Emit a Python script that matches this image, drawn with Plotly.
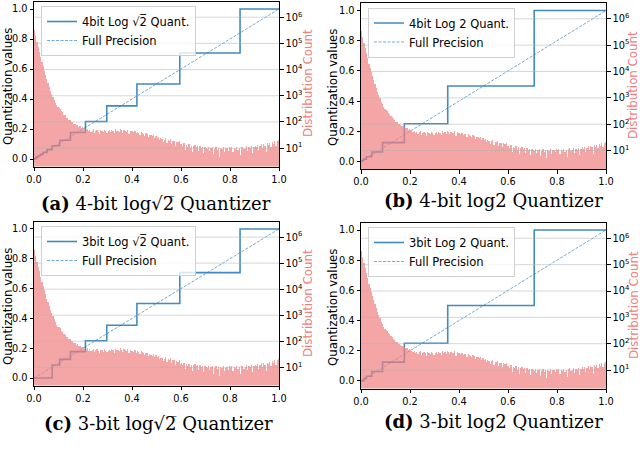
import numpy as np
import plotly.graph_objects as go

# histogram of the (normalised) values, log10 of the count per bin, 200 bins on [0, 1]
log_counts = [
    5.55, 5.30, 5.08, 4.88, 4.70, 4.50, 4.30, 4.15, 3.98, 3.82, 3.66, 3.52, 3.36, 3.22, 3.10, 2.98, 2.86, 2.76, 2.66, 2.58,
    2.55, 2.51, 2.42, 2.39, 2.30, 2.27, 2.19, 2.17, 2.10, 2.09, 2.02, 2.01, 1.96, 1.95, 1.89, 1.90, 1.84, 1.85, 1.79, 1.81,
    1.78, 1.74, 1.70, 1.76, 1.66, 1.72, 1.63, 1.69, 1.74, 1.60, 1.68, 1.71, 1.65, 1.56, 1.70, 1.67, 1.62, 1.71, 1.66, 1.59,
    1.66, 1.70, 1.63, 1.72, 1.68, 1.58, 1.74, 1.67, 1.69, 1.64, 1.75, 1.70, 1.61, 1.72, 1.68, 1.65, 1.73, 1.56, 1.69, 1.66,
    1.66, 1.62, 1.68, 1.58, 1.64, 1.61, 1.53, 1.63, 1.59, 1.56, 1.50, 1.58, 1.55, 1.44, 1.53, 1.51, 1.47, 1.52, 1.41, 1.48,
    1.40, 1.44, 1.32, 1.39, 1.37, 1.26, 1.35, 1.40, 1.22, 1.33, 1.31, 1.36, 1.19, 1.30, 1.28, 1.12, 1.27, 1.24, 1.29, 1.16,
    1.18, 1.10, 1.20, 0.95, 1.14, 1.08, 1.16, 1.02, 1.12, 0.88, 1.10, 1.14, 1.05, 1.09, 0.92, 1.11, 1.04, 1.07, 0.85, 1.06,
    1.04, 0.98, 1.07, 0.90, 1.03, 1.06, 0.78, 1.00, 1.05, 0.95, 1.02, 0.70, 1.04, 0.99, 1.06, 0.88, 1.01, 1.03, 0.93, 1.05,
    1.02, 1.06, 0.86, 1.04, 0.99, 1.07, 0.94, 1.03, 0.75, 1.05, 1.08, 0.97, 1.04, 1.09, 0.90, 1.06, 1.02, 1.10, 0.82, 1.07,
    1.12, 1.06, 1.15, 0.95, 1.10, 1.17, 1.03, 1.19, 1.12, 0.88, 1.20, 1.15, 1.23, 1.08, 1.25, 1.18, 1.28, 1.12, 1.30, 1.33,
]

# quantizer steps: x where each level starts, and the level
a_edges = [0, 0.0066, 0.0093, 0.013, 0.0186, 0.026, 0.037, 0.053, 0.074, 0.105, 0.149, 0.21, 0.297, 0.42, 0.595, 0.841]
a_levels = [0, 0.0078, 0.011, 0.0156, 0.022, 0.031, 0.044, 0.0625, 0.088, 0.125, 0.177, 0.25, 0.354, 0.5, 0.707, 1.0]
b_edges = [0, 0.0055, 0.011, 0.022, 0.044, 0.088, 0.177, 0.354, 0.707]
b_levels = [0, 0.0078, 0.0156, 0.031, 0.0625, 0.125, 0.25, 0.5, 1.0]
c_edges = [0, 0.074, 0.105, 0.149, 0.21, 0.297, 0.42, 0.595, 0.841]
c_levels = [0, 0.088, 0.125, 0.177, 0.25, 0.354, 0.5, 0.707, 1.0]
d_edges = [0, 0.011, 0.022, 0.044, 0.088, 0.177, 0.354, 0.707]
d_levels = [0, 0.0156, 0.031, 0.0625, 0.125, 0.25, 0.5, 1.0]

full_precision = [0.0, 1.0]

legend_names = ["4bit Log √2\u0305 Quant.", "4bit Log 2 Quant.", "3bit Log √2\u0305 Quant.", "3bit Log 2 Quant."]
captions = ["<b>(a)</b> 4-bit log√2\u0305 Quantizer", "<b>(b)</b> 4-bit log2 Quantizer",
            "<b>(c)</b> 3-bit log√2\u0305 Quantizer", "<b>(d)</b> 3-bit log2 Quantizer"]

q_ticks = [0.0, 0.2, 0.4, 0.6, 0.8, 1.0]
count_ticks = [1e1, 1e2, 1e3, 1e4, 1e5, 1e6]
count_ticktext = ["10<sup>1</sup>", "10<sup>2</sup>", "10<sup>3</sup>", "10<sup>4</sup>", "10<sup>5</sup>", "10<sup>6</sup>"]

W, H = 640, 464
# panel boxes in pixels: left, right, top, bottom
boxes = [(34, 279, 1.5, 166.5), (361, 606, 3, 169), (34, 279, 221.5, 385.5), (361, 606, 222.5, 388.5)]
caption_pos = [(156, 203), (493, 200), (158, 423), (493, 421)]
left_title_pos = [(8, 86), (333, 87), (8, 306), (333, 307)]
right_title_pos = [(308, 83), (633, 85), (308, 303), (634, 305)]

steps = [(a_edges, a_levels), (b_edges, b_levels), (c_edges, c_levels), (d_edges, d_levels)]

counts = 10 ** np.array(log_counts)
bin_w = 1.0 / len(counts)
bin_centers = (np.arange(len(counts)) + 0.5) * bin_w

FONT = "DejaVu Sans"
fig = go.Figure()
layout = dict(width=W, height=H, margin=dict(l=0, r=0, t=0, b=0), plot_bgcolor="white",
              paper_bgcolor="white", bargap=0, showlegend=True, font=dict(family=FONT, color="black"))

for i in range(4):
    n = i + 1
    xa = "x" if n == 1 else f"x{n}"
    yl = "y" if n == 1 else f"y{2 * n - 1}"
    yr = f"y{2 * n}"
    lg = "legend" if n == 1 else f"legend{n}"
    edges, levels = steps[i]
    fig.add_trace(go.Scatter(x=list(edges) + [1.0], y=list(levels) + [levels[-1]], mode="lines",
                             line=dict(shape="hv", color="rgba(31,119,180,0.85)", width=1.6),
                             name=legend_names[i], xaxis=xa, yaxis=yl, legend=lg))
    fig.add_trace(go.Scatter(x=full_precision, y=full_precision, mode="lines",
                             line=dict(color="rgba(31,119,180,0.7)", width=0.9, dash="3px,1.5px"),
                             name="Full Precision", xaxis=xa, yaxis=yl, legend=lg))
    fig.add_trace(go.Bar(x=bin_centers, y=counts, width=bin_w, marker=dict(color="rgba(240,128,128,0.7)", line=dict(width=0)),
                         xaxis=xa, yaxis=yr, showlegend=False))

    l, r, t, b = boxes[i]
    xdom = [l / W, r / W]
    ydom = [1 - b / H, 1 - t / H]
    xkey = "xaxis" if n == 1 else f"xaxis{n}"
    ylkey = "yaxis" if n == 1 else f"yaxis{2 * n - 1}"
    yrkey = f"yaxis{2 * n}"
    layout[xkey] = dict(domain=xdom, anchor=yl, range=[0, 1], tickvals=q_ticks, ticktext=[f"{v:.1f}" for v in q_ticks],
                        showline=True, mirror=True, linecolor="black", linewidth=1, ticks="outside", ticklen=3.5,
                        tickcolor="black", showgrid=False, zeroline=False, tickfont=dict(size=9.8), automargin=False)
    layout[ylkey] = dict(domain=ydom, anchor=xa, range=[-0.05, 1.05], tickvals=q_ticks,
                         ticktext=[f"{v:.1f}" for v in q_ticks], showline=True, linecolor="black", linewidth=1,
                         ticks="outside", ticklen=3.5, tickcolor="black", showgrid=False, zeroline=False,
                         tickfont=dict(size=9.8), automargin=False)
    layout[yrkey] = dict(domain=ydom, anchor=xa, overlaying=yl, side="right", type="log", range=[0.3, 6.6],
                         tickvals=count_ticks, ticktext=count_ticktext, showline=True, linecolor="black", linewidth=1,
                         ticks="outside", ticklen=3.5, tickcolor="black", showgrid=False, zeroline=False,
                         tickfont=dict(size=9.8), automargin=False)
    layout[lg] = dict(x=(l + 7) / W, y=1 - (t + 4.5) / H, xanchor="left", yanchor="top",
                      bgcolor="rgba(255,255,255,0.8)", bordercolor="#d0d0d0", borderwidth=1,
                      font=dict(size=11.5), tracegroupgap=0, itemwidth=30)
    for tv in count_ticks:
        fig.add_shape(type="line", xref=f"{xa} domain", x0=0, x1=1, yref=yr, y0=tv, y1=tv, layer="above",
                      line=dict(color="rgba(175,175,175,0.5)", width=1))
    lx, ly = left_title_pos[i]
    fig.add_annotation(x=lx / W, y=1 - ly / H, xref="paper", yref="paper", text="Quantization values",
                       textangle=-90, showarrow=False, xanchor="center", yanchor="middle",
                       font=dict(size=11.8, color="black"))
    rx, ry = right_title_pos[i]
    fig.add_annotation(x=rx / W, y=1 - ry / H, xref="paper", yref="paper", text="Distribution Count",
                       textangle=-90, showarrow=False, xanchor="center", yanchor="middle",
                       font=dict(size=11.8, color="#f08080"))
    cx, cy = caption_pos[i]
    fig.add_annotation(x=cx / W, y=1 - cy / H, xref="paper", yref="paper", text=captions[i], showarrow=False,
                       xanchor="center", yanchor="middle", font=dict(family="DejaVu Serif", size=18, color="black"))

fig.update_layout(**layout)
# the page's default body margin would push the 640x464 figure out of the window
fig.write_html("out.html", config={"displayModeBar": False}, post_script="document.body.style.margin='0';")
